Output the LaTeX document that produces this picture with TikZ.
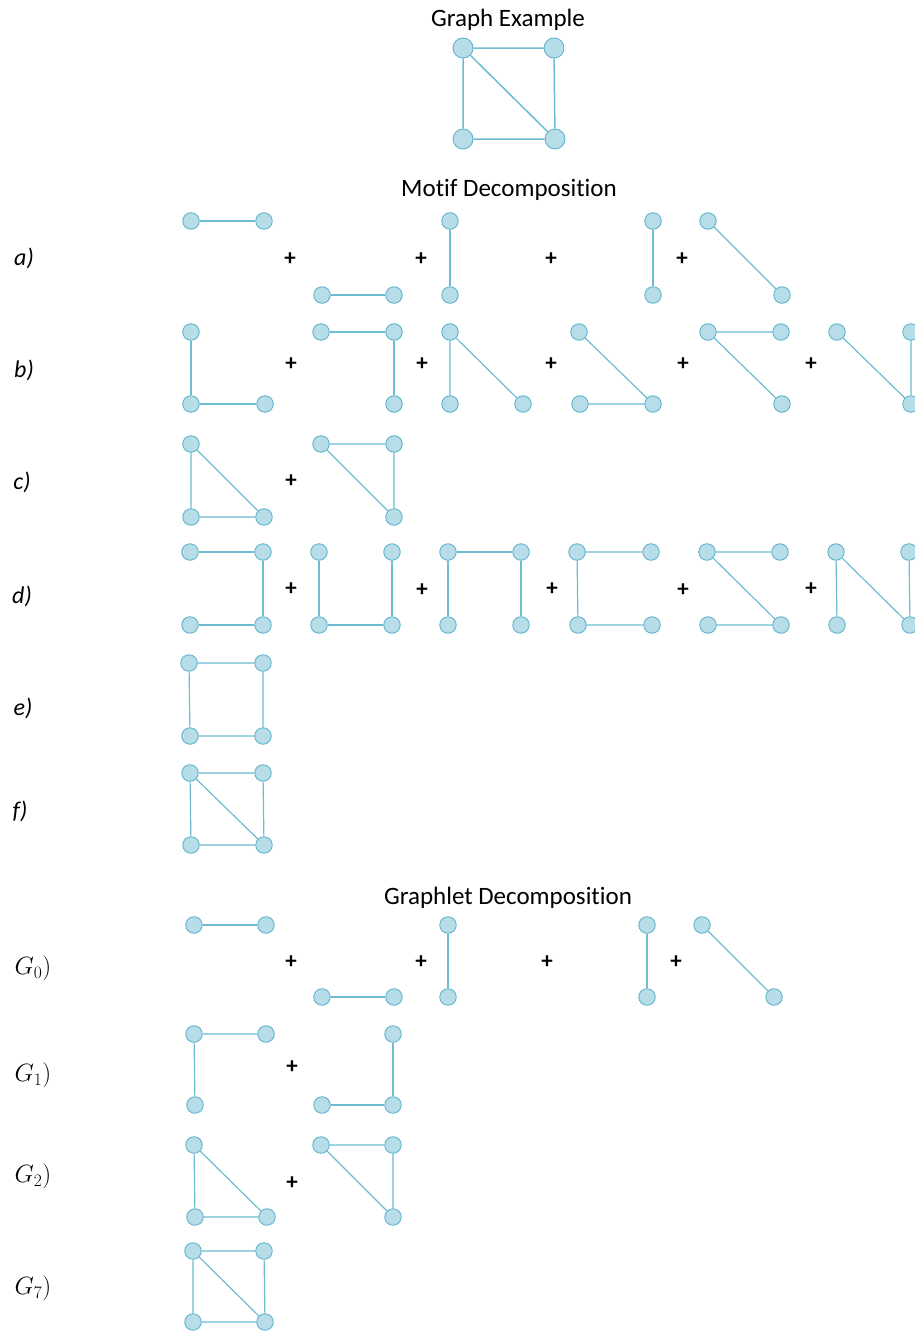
\RequirePackage{fix-cm}
\documentclass[tikz,border=0pt]{standalone}
\usepackage{fontspec}
\setmainfont{Carlito}[Ligatures=NoCommon]
\usepackage{xcolor}
\usepackage{tikz}
\usetikzlibrary{arrows.meta, positioning}

\definecolor{vfill}{HTML}{B7DDE8}
\definecolor{vline}{HTML}{5FB4CC}
\definecolor{eline}{HTML}{6CBCD2}

\begin{document}
\begin{tikzpicture}[
    x=1pt, y=-1pt,
    vtx/.style={
        circle,
        draw=vline,
        fill=vfill,
        line width=0.9pt,
        inner sep=0pt,
        minimum size=16.5pt
    },
    bigvtx/.style={
        vtx,
        minimum size=20pt
    },
    edge/.style={
        draw=eline,
        line width=1.2pt
    },
    plus/.style={
        font=\fontsize{23}{24}\selectfont\bfseries
    },
    rowlbl/.style={
        font=\fontsize{24}{28}\selectfont\itshape
    },
    glbl/.style={
        font=\fontsize{25}{28}\selectfont
    },
    heading/.style={
        font=\fontsize{25}{28}\selectfont
    }
]
\useasboundingbox (0,0) rectangle (914,1333);

\node[heading] (t1) at (508,20) {Graph Example};
\node[heading] (t2) at (509,190) {Motif Decomposition};
\node[heading] (t3) at (508,898) {Graphlet Decomposition};

\node[bigvtx] (gtl) at (463,48) {};
\node[bigvtx] (gtr) at (554,48) {};
\node[bigvtx] (gbl) at (463,139) {};
\node[bigvtx] (gbr) at (555,139) {};
\draw[edge, line width=1.5pt] (gtl) -- (gtr) -- (gbr) -- (gbl) -- (gtl) -- (gbr);

\node[rowlbl] (la) at (24,258) {a)};
\node[rowlbl] (lb) at (24,370) {b)};
\node[rowlbl] (lc) at (22,482) {c)};
\node[rowlbl] (ld) at (22,596) {d)};
\node[rowlbl] (le) at (23,708) {e)};
\node[rowlbl] (lf) at (20,811) {f)};

\node[vtx] (a1tl) at (191,221) {}; \node[vtx] (a1tr) at (264,221) {};
\node[vtx] (a2bl) at (322,295) {}; \node[vtx] (a2br) at (394,295) {};
\node[vtx] (a3tl) at (450,221) {}; \node[vtx] (a3bl) at (450,295) {};
\node[vtx] (a4tr) at (653,221) {}; \node[vtx] (a4br) at (653,295) {};
\node[vtx] (a5tl) at (708,221) {}; \node[vtx] (a5br) at (782,295) {};
\node[plus] (pa1) at (290,259) {+};
\node[plus] (pa2) at (421,259) {+};
\node[plus] (pa3) at (551,259) {+};
\node[plus] (pa4) at (682,259) {+};
\draw[edge] (a1tl) -- (a1tr);
\draw[edge] (a2bl) -- (a2br);
\draw[edge] (a3tl) -- (a3bl);
\draw[edge] (a4tr) -- (a4br);
\draw[edge] (a5tl) -- (a5br);

\node[vtx] (b1tl) at (191,332) {}; \node[vtx] (b1bl) at (191,404) {}; \node[vtx] (b1br) at (265,404) {};
\node[vtx] (b2tl) at (321,332) {}; \node[vtx] (b2tr) at (394,332) {}; \node[vtx] (b2br) at (394,404) {};
\node[vtx] (b3tl) at (450,332) {}; \node[vtx] (b3bl) at (450,404) {}; \node[vtx] (b3br) at (523,404) {};
\node[vtx] (b4tl) at (579,332) {}; \node[vtx] (b4bl) at (580,404) {}; \node[vtx] (b4br) at (653,404) {};
\node[vtx] (b5tl) at (708,332) {}; \node[vtx] (b5tr) at (781,332) {}; \node[vtx] (b5br) at (782,404) {};
\node[vtx] (b6tl) at (837,332) {}; \node[vtx] (b6tr) at (911,332) {}; \node[vtx] (b6br) at (911,404) {};
\node[plus] (pb1) at (291,364) {+};
\node[plus] (pb2) at (422,364) {+};
\node[plus] (pb3) at (551,364) {+};
\node[plus] (pb4) at (683,364) {+};
\node[plus] (pb5) at (811,364) {+};
\draw[edge] (b1tl) -- (b1bl) -- (b1br);
\draw[edge] (b2tl) -- (b2tr) -- (b2br);
\draw[edge] (b3bl) -- (b3tl) -- (b3br);
\draw[edge] (b4tl) -- (b4br) -- (b4bl);
\draw[edge] (b5tr) -- (b5tl) -- (b5br);
\draw[edge] (b6tl) -- (b6br) -- (b6tr);

\node[vtx] (c1tl) at (191,444) {}; \node[vtx] (c1bl) at (191,517) {}; \node[vtx] (c1br) at (264,517) {};
\node[vtx] (c2tl) at (321,444) {}; \node[vtx] (c2tr) at (394,444) {}; \node[vtx] (c2br) at (394,517) {};
\node[plus] (pc1) at (291,481) {+};
\draw[edge] (c1tl) -- (c1bl) -- (c1br) -- (c1tl);
\draw[edge] (c2tl) -- (c2tr) -- (c2br) -- (c2tl);

\node[vtx] (d1tl) at (190,552) {}; \node[vtx] (d1tr) at (263,552) {}; \node[vtx] (d1bl) at (190,625) {}; \node[vtx] (d1br) at (263,625) {};
\node[vtx] (d2tl) at (319,552) {}; \node[vtx] (d2tr) at (392,552) {}; \node[vtx] (d2bl) at (319,625) {}; \node[vtx] (d2br) at (392,625) {};
\node[vtx] (d3tl) at (448,552) {}; \node[vtx] (d3tr) at (521,552) {}; \node[vtx] (d3bl) at (448,625) {}; \node[vtx] (d3br) at (521,625) {};
\node[vtx] (d4tl) at (577,552) {}; \node[vtx] (d4tr) at (651,552) {}; \node[vtx] (d4bl) at (578,625) {}; \node[vtx] (d4br) at (652,625) {};
\node[vtx] (d5tl) at (707,552) {}; \node[vtx] (d5tr) at (780,552) {}; \node[vtx] (d5bl) at (708,625) {}; \node[vtx] (d5br) at (781,625) {};
\node[vtx] (d6tl) at (836,552) {}; \node[vtx] (d6tr) at (909,552) {}; \node[vtx] (d6bl) at (837,625) {}; \node[vtx] (d6br) at (910,625) {};
\node[plus] (pd1) at (291,589) {+};
\node[plus] (pd2) at (422,590) {+};
\node[plus] (pd3) at (552,589) {+};
\node[plus] (pd4) at (683,590) {+};
\node[plus] (pd5) at (811,589) {+};
\draw[edge] (d1tl) -- (d1tr) -- (d1br) -- (d1bl);
\draw[edge] (d2tl) -- (d2bl) -- (d2br) -- (d2tr);
\draw[edge] (d3bl) -- (d3tl) -- (d3tr) -- (d3br);
\draw[edge] (d4tr) -- (d4tl) -- (d4bl) -- (d4br);
\draw[edge] (d5tr) -- (d5tl) -- (d5br) -- (d5bl);
\draw[edge] (d6bl) -- (d6tl) -- (d6br) -- (d6tr);

\node[vtx] (e1tl) at (189,663) {}; \node[vtx] (e1tr) at (263,663) {}; \node[vtx] (e1bl) at (190,736) {}; \node[vtx] (e1br) at (263,736) {};
\draw[edge] (e1tl) -- (e1tr) -- (e1br) -- (e1bl) -- (e1tl);

\node[vtx] (f1tl) at (190,773) {}; \node[vtx] (f1tr) at (263,773) {}; \node[vtx] (f1bl) at (191,845) {}; \node[vtx] (f1br) at (264,845) {};
\draw[edge] (f1tl) -- (f1tr) -- (f1br) -- (f1bl) -- (f1tl) -- (f1br);

\node[glbl] (lg0) at (33,968) {$G_0)$};
\node[glbl] (lg1) at (33,1075) {$G_1)$};
\node[glbl] (lg2) at (33,1176) {$G_2)$};
\node[glbl] (lg7) at (33,1288) {$G_7)$};

\node[vtx] (g0atl) at (194,925) {}; \node[vtx] (g0atr) at (266,925) {};
\node[vtx] (g0bbl) at (322,997) {}; \node[vtx] (g0bbr) at (394,997) {};
\node[vtx] (g0ctl) at (448,925) {}; \node[vtx] (g0cbl) at (448,997) {};
\node[vtx] (g0dtr) at (647,925) {}; \node[vtx] (g0dbr) at (647,997) {};
\node[vtx] (g0etl) at (702,925) {}; \node[vtx] (g0ebr) at (774,997) {};
\node[plus] (pg01) at (291,962) {+};
\node[plus] (pg02) at (421,962) {+};
\node[plus] (pg03) at (547,962) {+};
\node[plus] (pg04) at (676,962) {+};
\draw[edge] (g0atl) -- (g0atr);
\draw[edge] (g0bbl) -- (g0bbr);
\draw[edge] (g0ctl) -- (g0cbl);
\draw[edge] (g0dtr) -- (g0dbr);
\draw[edge] (g0etl) -- (g0ebr);

\node[vtx] (g1atl) at (194,1034) {}; \node[vtx] (g1atr) at (266,1034) {}; \node[vtx] (g1abl) at (195,1105) {};
\node[vtx] (g1btr) at (393,1034) {}; \node[vtx] (g1bbl) at (322,1105) {}; \node[vtx] (g1bbr) at (393,1105) {};
\node[plus] (pg11) at (292,1067) {+};
\draw[edge] (g1atr) -- (g1atl) -- (g1abl);
\draw[edge] (g1btr) -- (g1bbr) -- (g1bbl);

\node[vtx] (g2atl) at (194,1145) {}; \node[vtx] (g2abl) at (195,1217) {}; \node[vtx] (g2abr) at (267,1217) {};
\node[vtx] (g2btl) at (321,1145) {}; \node[vtx] (g2btr) at (393,1145) {}; \node[vtx] (g2bbr) at (393,1217) {};
\node[plus] (pg21) at (292,1183) {+};
\draw[edge] (g2atl) -- (g2abl) -- (g2abr) -- (g2atl);
\draw[edge] (g2btl) -- (g2btr) -- (g2bbr) -- (g2btl);

\node[vtx] (g7tl) at (193,1251) {}; \node[vtx] (g7tr) at (264,1251) {}; \node[vtx] (g7bl) at (193,1322) {}; \node[vtx] (g7br) at (265,1322) {};
\draw[edge] (g7tl) -- (g7tr) -- (g7br) -- (g7bl) -- (g7tl) -- (g7br);

\end{tikzpicture}
\end{document}
